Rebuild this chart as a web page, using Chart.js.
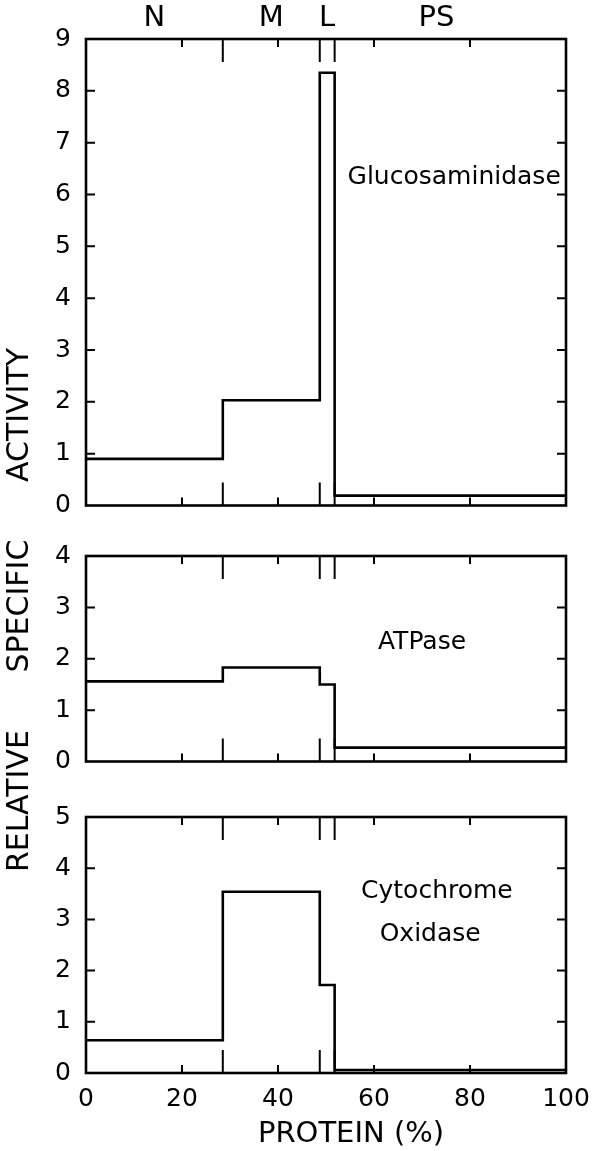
<!DOCTYPE html>
<html><head><meta charset="utf-8">
<script src="https://cdn.jsdelivr.net/npm/chart.js@4.4.1/dist/chart.umd.min.js"></script>
<style>
html,body{margin:0;padding:0;background:#fff;}
#wrap{position:relative;width:613px;height:1151px;overflow:hidden;font-family:'DejaVu Sans',sans-serif;color:#000;background:#fff;}
canvas{position:absolute;left:0;}
#ytitle{position:absolute;left:-252px;top:592px;width:540px;height:36px;line-height:36px;text-align:center;font-size:30px;word-spacing:48px;transform:rotate(-90deg);white-space:nowrap;}
#xtitle{position:absolute;left:351px;top:1113px;transform:translateX(-50%);font-size:29px;line-height:38px;white-space:nowrap;}
</style></head>
<body><div id="wrap">
<canvas id="c1" style="top:0px" width="613" height="525"></canvas>
<canvas id="c2" style="top:530px" width="613" height="251"></canvas>
<canvas id="c3" style="top:790px" width="613" height="361"></canvas>
<div id="ytitle">RELATIVE SPECIFIC ACTIVITY</div>
<div id="xtitle">PROTEIN (%)</div>
</div>
<script>
// ---- data ----
const fractions = ['N', 'M', 'L', 'PS'];
const boundaries = [0, 28.5, 48.7, 51.8, 100];           // cumulative protein (%)
const glucosaminidase = [0.9, 2.03, 8.35, 0.19];
const atpase = [1.56, 1.83, 1.5, 0.27];
const cytochromeOxidase = [0.64, 3.54, 1.72, 0.06];
const xTickValues = [0, 20, 40, 60, 80, 100];
const yMax = [9, 4, 5];
const fractionLabelAt = [14.25, 38.6, 50.25, 73];

Chart.defaults.font.family = "'DejaVu Sans', sans-serif";
Chart.defaults.color = '#000';

function stepPoints(values) {
  const pts = [];
  values.forEach((v, i) => {
    pts.push({x: boundaries[i], y: v});
    pts.push({x: boundaries[i + 1], y: v});
  });
  return pts;
}

const framePlugin = {
  id: 'frame',
  afterDatasetsDraw(chart, args, opts) {
    const {ctx, chartArea: a, scales: {x, y}} = chart;
    ctx.save();
    ctx.strokeStyle = '#000';
    ctx.lineCap = 'butt';
    ctx.lineWidth = 2;
    ctx.beginPath();
    xTickValues.slice(1, -1).forEach(v => {
      const px = x.getPixelForValue(v);
      ctx.moveTo(px, a.top); ctx.lineTo(px, a.top + 8);
      ctx.moveTo(px, a.bottom); ctx.lineTo(px, a.bottom - 8);
    });
    boundaries.slice(1, -1).forEach(v => {
      const px = x.getPixelForValue(v);
      ctx.moveTo(px, a.top); ctx.lineTo(px, a.top + 23);
      ctx.moveTo(px, a.bottom); ctx.lineTo(px, a.bottom - 23);
    });
    for (let v = y.min + 1; v < y.max; v++) {
      const py = y.getPixelForValue(v);
      ctx.moveTo(a.left, py); ctx.lineTo(a.left + 9, py);
      ctx.moveTo(a.right, py); ctx.lineTo(a.right - 9, py);
    }
    ctx.stroke();
    ctx.lineWidth = 2.6;
    ctx.lineJoin = 'miter';
    ctx.strokeRect(a.left, a.top, a.right - a.left, a.bottom - a.top);
    // annotations
    ctx.fillStyle = '#000';
    ctx.textAlign = 'center';
    ctx.textBaseline = 'middle';
    (opts.labels || []).forEach(l => {
      ctx.font = (l.size || 25) + "px 'DejaVu Sans', sans-serif";
      ctx.fillText(l.text, x.getPixelForValue(l.x), l.py !== undefined ? l.py : y.getPixelForValue(l.y));
    });
    ctx.restore();
  }
};

function makeChart(id, values, max, padTop, showX, labels) {
  return new Chart(document.getElementById(id), {
    type: 'line',
    data: {datasets: [{
      data: stepPoints(values),
      borderColor: '#000', borderWidth: 2.6, pointRadius: 0, fill: false, tension: 0,
      borderJoinStyle: 'miter', clip: false
    }]},
    options: {
      responsive: false, animation: false,
      layout: {padding: {top: padTop, right: 47, left: 0, bottom: 0}},
      plugins: {legend: {display: false}, tooltip: {enabled: false}, frame: {labels}},
      scales: {
        x: {
          type: 'linear', min: 0, max: 100,
          afterBuildTicks: s => { s.ticks = xTickValues.map(v => ({value: v})); },
          grid: {display: false}, border: {display: false},
          ticks: {display: showX, font: {size: 25, lineHeight: 1}, padding: 6, maxRotation: 0, autoSkip: false,
                  callback: v => String(v)},
          afterFit: s => { s.height = showX ? 78 : 18; }
        },
        y: {
          min: 0, max: max,
          ticks: {stepSize: 1, font: {size: 25, lineHeight: 1}, padding: 7, autoSkip: false},
          grid: {display: false}, border: {display: false},
          afterFit: s => { s.width = 86; }
        }
      }
    },
    plugins: [framePlugin]
  });
}

const topLabels = fractions.map((f, i) => ({text: f, x: fractionLabelAt[i], py: 18, size: 29}));
makeChart('c1', glucosaminidase, yMax[0], 39, false,
  topLabels.concat([{text: 'Glucosaminidase', x: 76.7, y: 6.33}]));
makeChart('c2', atpase, yMax[1], 26, false,
  [{text: 'ATPase', x: 70, y: 2.32}]);
makeChart('c3', cytochromeOxidase, yMax[2], 27, true,
  [{text: 'Cytochrome', x: 73.1, y: 3.55}, {text: 'Oxidase', x: 71.7, y: 2.71}]);
</script>
</body></html>
